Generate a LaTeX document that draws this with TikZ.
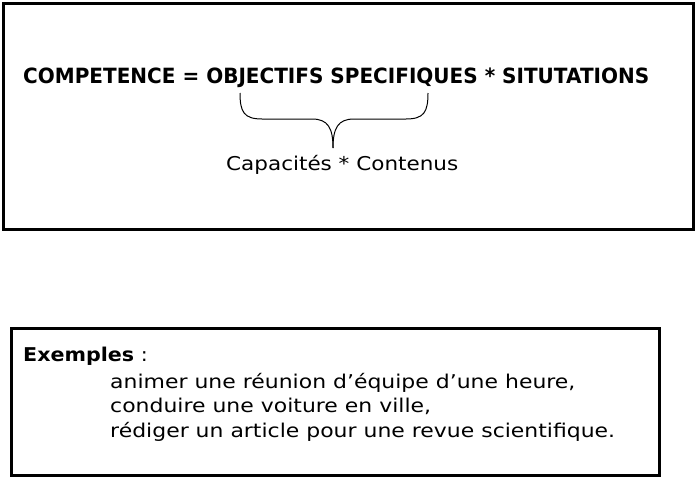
\documentclass[tikz,border=0pt]{standalone}
\usepackage{fontspec}
\setmainfont{DejaVu Sans}
\begin{document}
\begin{tikzpicture}[x=1pt,y=-1pt,
  frame/.style={draw=black,line width=3pt},
  txt/.style={anchor=base west,inner sep=0pt,xscale=1.155,transform shape,font=\fontsize{19}{23}\selectfont},
  ttl/.style={anchor=base west,inner sep=0pt,xscale=0.953,transform shape,font=\fontsize{21}{25}\selectfont\bfseries}]
\useasboundingbox (0,0) rectangle (695,479);
\node[frame,minimum width=690pt,minimum height=226pt,inner sep=0pt,anchor=north west] (top) at (1.5,1.5) {};
\node[frame,minimum width=648pt,minimum height=147pt,inner sep=0pt,anchor=north west] (bot) at (10,327) {};
\node[ttl] (title) at (23,83) {COMPETENCE = OBJECTIFS SPECIFIQUES * SITUTATIONS};
\node[txt,xscale=0.98] (cap) at (226,170.5) {Capacités * Contenus};
\coordinate (bl) at (240,93);
\coordinate (br) at (428,93);
\coordinate (tip) at (333,148);
\draw[line width=1pt] (bl) .. controls (240,112) and (244,119) .. (262,119) -- (312,119)
  .. controls (328,119) and (333,128) .. (tip);
\draw[line width=1pt] (br) .. controls (428,112) and (424,119) .. (406,119) -- (354,119)
  .. controls (338,119) and (333,128) .. (tip);
\node[txt,xscale=0.94] (ex) at (23,361) {\textbf{Exemples} :};
\node[txt] (l1) at (110,388) {animer une réunion d’équipe d’une heure,};
\node[txt] (l2) at (110,412.5) {conduire une voiture en ville,};
\node[txt] (l3) at (110,437) {rédiger un article pour une revue scientifique.};
\end{tikzpicture}
\end{document}
